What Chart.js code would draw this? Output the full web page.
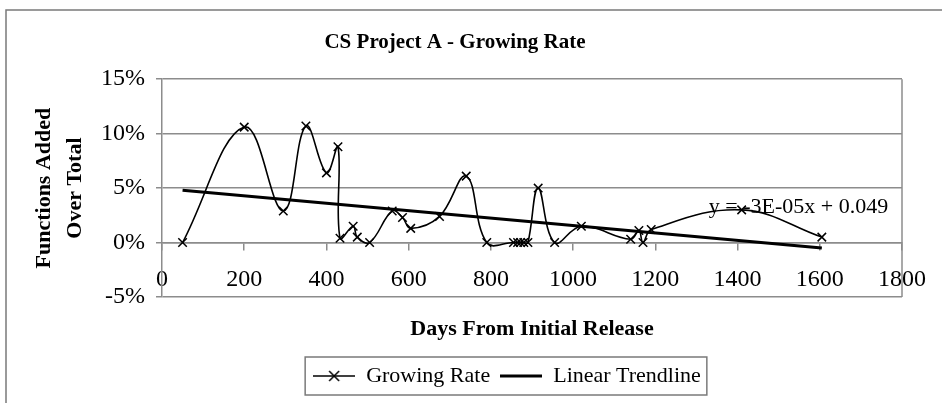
<!DOCTYPE html>
<html>
<head>
<meta charset="utf-8">
<script src="https://cdn.jsdelivr.net/npm/chart.js@4"></script>
<style>
  html, body { margin: 0; padding: 0; background: #fff; }
  #wrap { width: 942px; height: 403px; }
</style>
</head>
<body>
<div id="wrap"><canvas id="myChart" width="942" height="403"></canvas></div>
<script>
// days since release, and % of functions added over total
const days = [50, 200, 295, 350, 400, 428, 433, 465, 475, 505, 560, 585, 605, 675, 740, 790, 855, 865, 872, 880, 890, 915, 955, 1020, 1140, 1160, 1170, 1190, 1410, 1605];
const growthRate = [0, 10.6, 2.9, 10.7, 6.4, 8.8, 0.4, 1.5, 0.5, 0, 2.9, 2.3, 1.3, 2.4, 6.1, 0, 0, 0, 0, 0, 0, 5.0, 0, 1.5, 0.3, 1.1, 0, 1.2, 3.0, 0.5];

// trendline ends as drawn
const trendDays = [50, 1605];
const trendValues = [4.8, -0.5];

const yTicks = [-5, 0, 5, 10, 15];
const xTicks = [0, 200, 400, 600, 800, 1000, 1200, 1400, 1600, 1800];
const equationText = "y = -3E-05x + 0.049";

const GRID = "#8c8c8c";
Chart.defaults.font.family = '"Liberation Serif", "Times New Roman", serif';
Chart.defaults.color = "#000";

// legend markers: line with cross, thick line
function makeMarker(cross, lw) {
  const c = document.createElement("canvas");
  c.width = 42;
  c.height = 14;
  const g = c.getContext("2d");
  g.strokeStyle = "#000";
  g.lineWidth = lw;
  g.beginPath();
  g.moveTo(0, 7);
  g.lineTo(42, 7);
  g.stroke();
  if (cross) {
    g.lineWidth = 1.5;
    g.beginPath();
    g.moveTo(16, 2); g.lineTo(26, 12);
    g.moveTo(26, 2); g.lineTo(16, 12);
    g.stroke();
  }
  return c;
}
const markers = [makeMarker(true, 1.5), makeMarker(false, 3)];

const decorations = {
  id: "decorations",
  afterLayout(chart) {
    // legend sits a bit right of centre in the original
    chart.legend.left += 52;
    chart.legend.right += 52;
  },
  beforeDraw(chart) {
    const ctx = chart.ctx;
    ctx.save();
    ctx.fillStyle = "#fff";
    ctx.fillRect(0, 0, chart.width, chart.height);
    // outer chart border
    ctx.strokeStyle = "#7a7a7a";
    ctx.lineWidth = 1.5;
    ctx.beginPath();
    ctx.moveTo(6, chart.height);
    ctx.lineTo(6, 10);
    ctx.lineTo(chart.width, 10);
    ctx.stroke();
    ctx.restore();
  },
  afterDraw(chart) {
    const ctx = chart.ctx;
    const a = chart.chartArea;
    ctx.save();
    // right edge of plot area
    ctx.strokeStyle = GRID;
    ctx.lineWidth = 1.5;
    ctx.beginPath();
    ctx.moveTo(a.right, a.top);
    ctx.lineTo(a.right, a.bottom);
    ctx.stroke();

    // box around legend
    const hb = chart.legend.legendHitBoxes;
    if (hb && hb.length) {
      const l = Math.min(...hb.map((h) => h.left)) - 8;
      const r = Math.max(...hb.map((h) => h.left + h.width)) + 6;
      const t = Math.min(...hb.map((h) => h.top)) - 8;
      const b = Math.max(...hb.map((h) => h.top + h.height)) + 8;
      ctx.strokeStyle = "#7a7a7a";
      ctx.lineWidth = 1.5;
      ctx.strokeRect(l, t, r - l, b - t);
    }
    ctx.restore();
  },
  afterDatasetsDraw(chart) {
    const ctx = chart.ctx;
    const xs = chart.scales.x;
    const ys = chart.scales.y;
    ctx.save();
    ctx.font = '22px "Liberation Serif", serif';
    ctx.fillStyle = "#000";
    ctx.textAlign = "left";
    ctx.textBaseline = "alphabetic";
    ctx.fillText(equationText, xs.getPixelForValue(1330), ys.getPixelForValue(2.7));
    ctx.restore();
  },
};

new Chart(document.getElementById("myChart"), {
  type: "line",
  data: {
    datasets: [
      {
        label: "Growing Rate",
        data: days.map((d, i) => ({ x: d, y: growthRate[i] })),
        borderColor: "#000",
        backgroundColor: "#000",
        borderWidth: 1.6,
        tension: 0.4,
        pointStyle: "crossRot",
        pointRadius: 6,
        pointBorderWidth: 1.5,
        pointBorderColor: "#000",
        fill: false,
      },
      {
        label: "Linear Trendline",
        data: trendDays.map((d, i) => ({ x: d, y: trendValues[i] })),
        borderColor: "#000",
        backgroundColor: "#000",
        borderWidth: 3.2,
        pointRadius: 0,
        tension: 0,
        fill: false,
      },
    ],
  },
  options: {
    responsive: false,
    animation: false,
    events: [],
    layout: { padding: { left: 8, right: 40, top: 0, bottom: 6 } },
    plugins: {
      title: {
        display: true,
        text: "CS Project A - Growing Rate",
        font: { size: 21, weight: "bold" },
        padding: { top: 30, bottom: 24 },
      },
      legend: {
        position: "bottom",
        labels: {
          usePointStyle: true,
          pointStyleWidth: 42,
          padding: 10,
          font: { size: 22 },
          color: "#000",
          generateLabels: (chart) =>
            Chart.defaults.plugins.legend.labels
              .generateLabels(chart)
              .map((item, i) => ({ ...item, pointStyle: markers[i] })),
        },
      },
      tooltip: { enabled: false },
    },
    scales: {
      x: {
        type: "linear",
        position: { y: 0 },
        min: 0,
        max: 1800,
        afterBuildTicks: (s) => { s.ticks = xTicks.map((v) => ({ value: v })); },
        ticks: { font: { size: 24 }, padding: 16, maxRotation: 0, callback: (v) => String(v) },
        grid: { drawOnChartArea: false, drawTicks: true, tickLength: 7, color: GRID, lineWidth: 1.5 },
        border: { display: true, color: GRID, width: 1.5 },
      },
      x2: {
        type: "linear",
        position: "bottom",
        min: 0,
        max: 1800,
        ticks: { display: false },
        grid: { display: false },
        border: { display: false },
        title: {
          display: true,
          text: "Days From Initial Release",
          font: { size: 22, weight: "bold" },
          padding: { top: 0, bottom: 12 },
        },
        afterFit: (s) => { s.height = 58; },
      },
      y: {
        min: -5,
        max: 15,
        afterBuildTicks: (s) => { s.ticks = yTicks.map((v) => ({ value: v })); },
        ticks: { font: { size: 24 }, padding: 11, callback: (v) => v + "%" },
        grid: { color: GRID, lineWidth: 1.5, tickLength: 6 },
        border: { display: true, color: GRID, width: 1.5 },
        title: {
          display: true,
          text: ["Functions Added", "Over Total"],
          font: { size: 22, weight: "bold", lineHeight: 1.4 },
          padding: { top: 21, bottom: 0 },
        },
        afterFit: (s) => { s.width = 154; },
      },
    },
  },
  plugins: [decorations],
});
</script>
</body>
</html>
